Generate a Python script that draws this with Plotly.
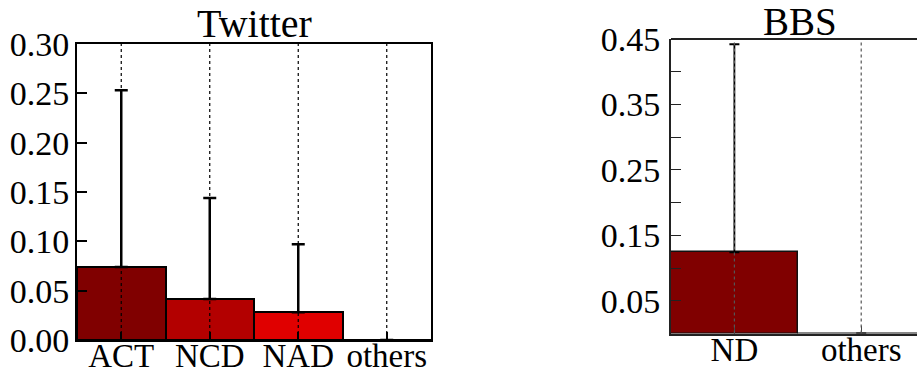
import plotly.graph_objects as go

# ---- data ----
twitter_cats = ["ACT", "NCD", "NAD", "others"]
twitter_vals = [0.074, 0.0415, 0.028, 0.0]
twitter_err = [0.179, 0.1025, 0.069, None]
twitter_colors = ["#800000", "#b30000", "#e00000", "#ff1a1a"]

bbs_cats = ["ND", "others"]
bbs_vals = [0.124, 0.0]
bbs_err = [0.318, None]
bbs_colors = ["#800000", "#ff1a1a"]

twitter_yticks = [0.00, 0.05, 0.10, 0.15, 0.20, 0.25, 0.30]
bbs_yticks = [0.05, 0.10, 0.15, 0.20, 0.25, 0.30, 0.35, 0.40, 0.45]
bbs_ytick_labels = ["0.05", "", "0.15", "", "0.25", "", "0.35", "", "0.45"]

W, H = 917, 374
FONT = "Liberation Serif"

fig = go.Figure()

fig.add_trace(go.Bar(
    x=twitter_cats, y=twitter_vals, width=1.0,
    marker=dict(color=twitter_colors, line=dict(color="black", width=2)),
    error_y=dict(type="data", symmetric=False, array=twitter_err,
                 arrayminus=[0] * len(twitter_err), color="black",
                 thickness=2.5, width=6.5),
    xaxis="x", yaxis="y", showlegend=False,
))
fig.add_trace(go.Bar(
    x=bbs_cats, y=bbs_vals, width=1.0,
    marker=dict(color=bbs_colors, line=dict(color="#111111", width=1.5)),
    error_y=dict(type="data", symmetric=False, array=bbs_err,
                 arrayminus=[0] * len(bbs_err), color="black",
                 thickness=1.8, width=5),
    xaxis="x2", yaxis="y2", showlegend=False,
))

# dotted vertical grid lines drawn above bars
shapes = []
for c in twitter_cats:
    shapes.append(dict(type="line", xref="x", yref="y domain", x0=c, x1=c, y0=0, y1=1,
                       line=dict(color="black", width=1.2, dash="dot"), layer="above"))
for c in bbs_cats:
    shapes.append(dict(type="line", xref="x2", yref="y2 domain", x0=c, x1=c, y0=0, y1=1,
                       line=dict(color="#555555", width=1.2, dash="dot"), layer="above"))
# top spine of right subplot (right spine is outside the page)
shapes.append(dict(type="line", xref="x2 domain", yref="y2 domain", x0=0, x1=1, y0=1, y1=1,
                   line=dict(color="#222222", width=1.8), layer="above"))

tickfont = dict(family=FONT, size=34, color="black")
catfont = dict(family=FONT, size=33, color="black")

fig.update_layout(
    width=W, height=H,
    margin=dict(l=0, r=0, t=0, b=0, autoexpand=False),
    paper_bgcolor="white", plot_bgcolor="white",
    bargap=0,
    shapes=shapes,
    xaxis=dict(domain=[77 / W, 431 / W], range=[-0.5, 3.5], type="category", anchor="y",
               showline=True, linecolor="black", linewidth=2, mirror=True,
               ticks="inside", ticklen=8, tickwidth=1.5, tickcolor="black",
               showgrid=False, tickfont=catfont, layer="above traces",
               ticklabelstandoff=-15, automargin=False),
    yaxis=dict(domain=[(H - 340) / H, (H - 44) / H], range=[0, 0.30], anchor="x",
               tickvals=twitter_yticks, tickformat=".2f",
               showline=True, linecolor="black", linewidth=2, mirror=True,
               ticks="inside", ticklen=10, tickwidth=1.5, tickcolor="black",
               showgrid=False, zeroline=False, tickfont=tickfont, layer="above traces",
               ticklabelstandoff=-1, automargin=False),
    xaxis2=dict(domain=[671 / W, 1.0], range=[-0.5, 1.44], type="category", anchor="y2",
                showline=True, linecolor="#222222", linewidth=1.8, mirror=False,
                ticks="inside", ticklen=8, tickwidth=1.2, tickcolor="#444444",
                showgrid=False, tickfont=catfont, layer="above traces",
                ticklabelstandoff=-14, automargin=False),
    yaxis2=dict(domain=[(H - 333.5) / H, (H - 39) / H], range=[0, 0.45], anchor="x2",
                tickvals=bbs_yticks, ticktext=bbs_ytick_labels,
                showline=True, linecolor="#222222", linewidth=1.8, mirror=False,
                ticks="inside", ticklen=10, tickwidth=1.2, tickcolor="#222222",
                showgrid=False, zeroline=False, tickfont=tickfont, layer="above traces",
                ticklabelstandoff=2, automargin=False),
    annotations=[
        dict(text="Twitter", xref="paper", yref="paper",
             x=(77 + 431) / 2 / W, y=(H - 48) / H, xanchor="center", yanchor="bottom",
             showarrow=False, font=dict(family=FONT, size=40, color="black")),
        dict(text="BBS", xref="paper", yref="paper",
             x=800 / W, y=(H - 45) / H, xanchor="center", yanchor="bottom",
             showarrow=False, font=dict(family=FONT, size=39, color="black")),
    ],
)

fig.write_html("out.html")
